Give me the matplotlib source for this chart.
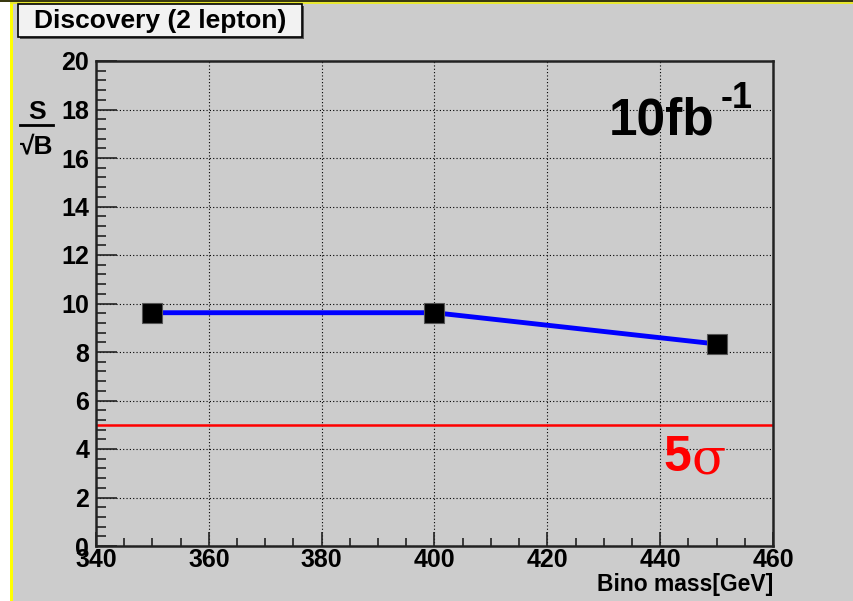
import numpy as np
import matplotlib.pyplot as plt
from matplotlib.patches import Rectangle
from matplotlib.ticker import MultipleLocator

# Discovery reach, 2-lepton channel
bino_mass = [350, 400, 450]
significance = [9.62, 9.62, 8.33]
discovery_level = 5.0

W, H = 854, 601
BG = '#cccccc'
FONT = ['Liberation Sans', 'DejaVu Sans']

plt.rcParams['font.family'] = FONT
plt.rcParams['font.weight'] = 'bold'

fig = plt.figure(figsize=(W / 100, H / 100), dpi=100, facecolor=BG)


def px(x0, y0, x1, y1):
    # pixel box (top-left origin) -> figure fraction rect
    return [x0 / W, 1 - y1 / H, (x1 - x0) / W, (y1 - y0) / H]


# canvas border strips
fig.patches.append(Rectangle((0, 0), 10 / W, 1, transform=fig.transFigure,
                             facecolor='white', edgecolor='none'))
fig.patches.append(Rectangle((10 / W, 0), 2.5 / W, 1, transform=fig.transFigure,
                             facecolor='#ffff00', edgecolor='none'))
fig.patches.append(Rectangle((0, 1 - 1.5 / H), 1, 1.5 / H, transform=fig.transFigure,
                             facecolor='#3a3a10', edgecolor='none'))
fig.patches.append(Rectangle((10 / W, 1 - 3.5 / H), 1, 2 / H, transform=fig.transFigure,
                             facecolor='#e8e830', edgecolor='none'))

ax = fig.add_axes(px(96, 61, 773, 546))
ax.set_facecolor(BG)
ax.set_xlim(340, 460)
ax.set_ylim(0, 20)

ax.xaxis.set_major_locator(MultipleLocator(20))
ax.xaxis.set_minor_locator(MultipleLocator(5))
ax.yaxis.set_major_locator(MultipleLocator(2))
ax.yaxis.set_minor_locator(MultipleLocator(0.4))
ax.tick_params(which='both', direction='in', width=1.2, color='#222222')
ax.tick_params(axis='x', which='major', length=10, labelsize=18, pad=1.5)
ax.tick_params(axis='x', which='minor', length=6)
ax.tick_params(axis='y', which='major', length=15, labelsize=18, pad=5)
ax.tick_params(axis='y', which='minor', length=7)
for lab in ax.get_xticklabels() + ax.get_yticklabels():
    lab.set_fontweight('bold')
for sp in ax.spines.values():
    sp.set_linewidth(1.8)
    sp.set_color('#222222')

ax.grid(True, which='major', linestyle=(0, (1, 2)), color='black', linewidth=0.8)
ax.set_axisbelow(True)

ax.axhline(discovery_level, color='#ff0000', linewidth=1.8, zorder=2)
ax.plot(bino_mass, significance, color='#0000ff', linewidth=3.5, zorder=3)
ax.plot(bino_mass, significance, linestyle='none', marker='s', markersize=14.5,
        markerfacecolor='black', markeredgecolor='#555555', markeredgewidth=0.8, zorder=4)

# luminosity
ax.text(430.8, 16.95, '10fb', ha='left', va='baseline',
        fontsize=37, fontweight='bold', color='black')
ax.text(450.8, 18.05, '-1', ha='left', va='baseline',
        fontsize=26, fontweight='bold', color='black')

# 5 sigma marker text
ax.text(440.5, 3.1, '5', ha='left', va='baseline',
        fontsize=36, fontweight='bold', color='#ff0000')
ax.text(445.6, 3.0, 'σ', ha='left', va='baseline',
        fontsize=36, fontweight='normal', color='#ff0000',
        family=['DejaVu Serif', 'Liberation Serif'])

ax.set_xlabel('Bino mass[GeV]', fontsize=16.5, fontweight='bold', loc='right', labelpad=1)

# S / sqrt(B) label
fig.text(37 / W, 1 - 112 / H, 'S', ha='center', va='center', fontsize=19, fontweight='bold')
fig.add_artist(plt.Line2D([20 / W, 53 / W], [1 - 125 / H, 1 - 125 / H],
                          color='black', linewidth=2))
fig.text(37 / W, 1 - 146 / H, '√B', ha='center', va='center', fontsize=19, fontweight='bold')

# title box
fig.patches.append(Rectangle((20 / W, 1 - 39 / H), 284 / W, 33 / H, transform=fig.transFigure,
                             facecolor='#555555', edgecolor='none'))
fig.patches.append(Rectangle((18 / W, 1 - 37 / H), 284 / W, 33 / H, transform=fig.transFigure,
                             facecolor='#f2f2f2', edgecolor='black', linewidth=1.2))
fig.text(160 / W, 1 - 21 / H, 'Discovery (2 lepton)', ha='center', va='center',
         fontsize=19, fontweight='bold')

fig.savefig('out.png', dpi=100, facecolor=BG)
